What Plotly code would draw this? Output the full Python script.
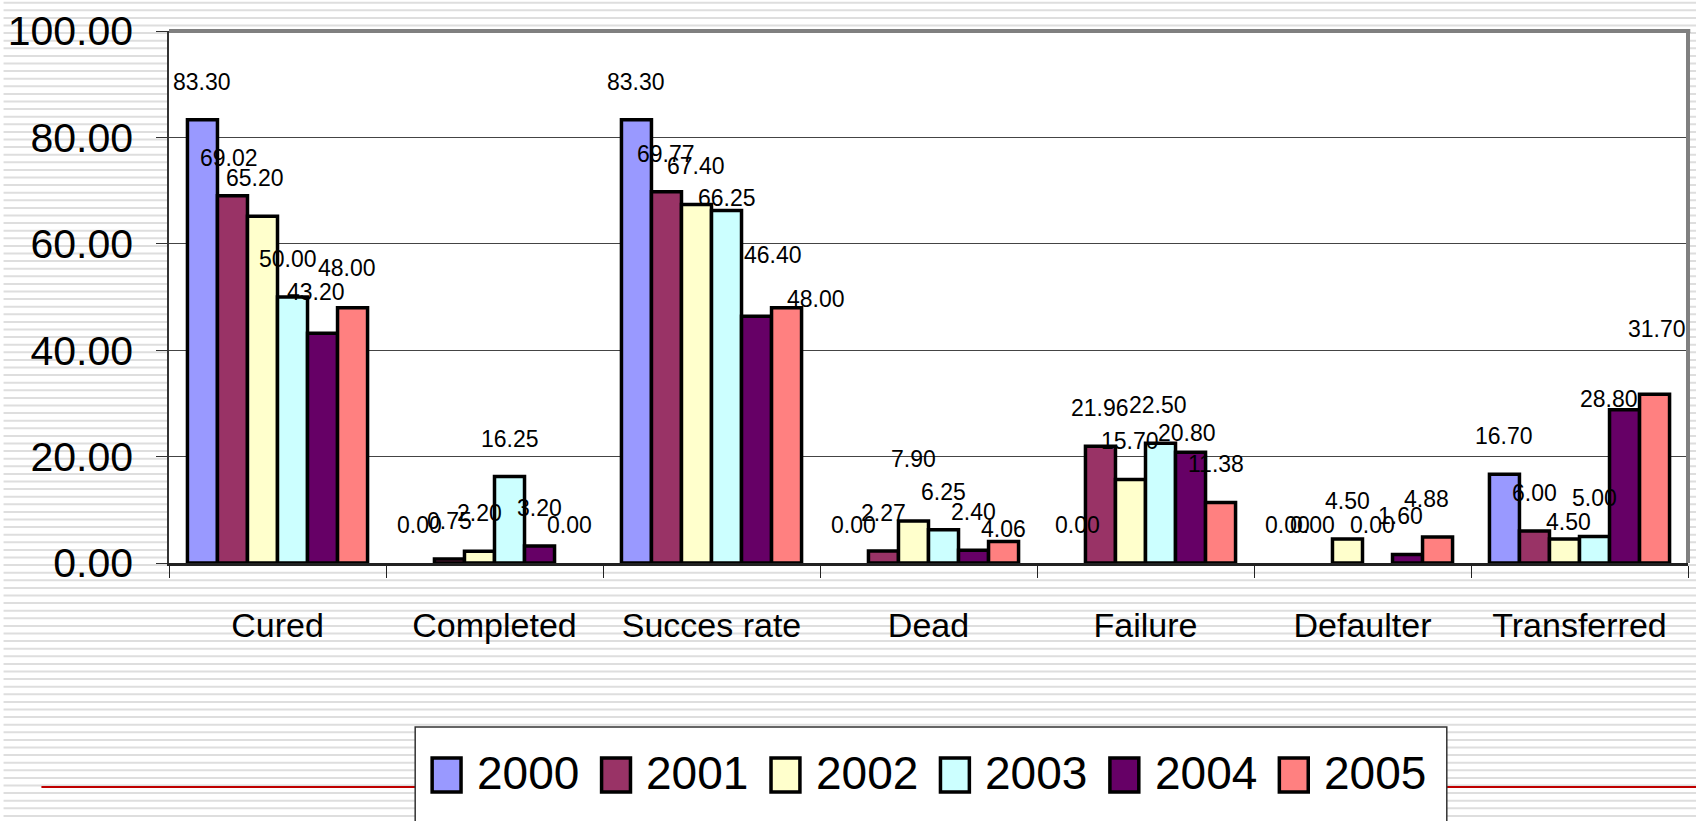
import plotly.graph_objects as go

# ---------------- data ----------------
categories = ["Cured", "Completed", "Succes rate", "Dead", "Failure", "Defaulter", "Transferred"]
years = ["2000", "2001", "2002", "2003", "2004", "2005"]
v2000 = [83.30, 0.00, 83.30, 0.00, 0.00, 0.00, 16.70]
v2001 = [69.02, 0.75, 69.77, 2.27, 21.96, 0.00, 6.00]
v2002 = [65.20, 2.20, 67.40, 7.90, 15.70, 4.50, 4.50]
v2003 = [50.00, 16.25, 66.25, 6.25, 22.50, 0.00, 5.00]
v2004 = [43.20, 3.20, 46.40, 2.40, 20.80, 1.60, 28.80]
v2005 = [48.00, 0.00, 48.00, 4.06, 11.38, 4.88, 31.70]
y_tick_vals = [0, 20, 40, 60, 80, 100]
series = [v2000, v2001, v2002, v2003, v2004, v2005]

# ---------------- styles ----------------
colors = ["#9999FF", "#993366", "#FFFFCC", "#CCFFFF", "#660066", "#FF8080"]
FONT = "Liberation Sans, Arial, sans-serif"
W, H = 1696, 821
ML, MR, MT, MB = 164, 8, 31, 258
PW, PH = W - ML - MR, H - MT - MB
BARGAP = 0.17
OUTLINE = 3.5
group_px = PW / len(categories)
bar_px = group_px * (1 - BARGAP) / len(years)
LABEL_LIFT = 38
# manual label nudges (pixels) as placed in the original slide: (category index, series index) -> (dx, dy)
label_nudge = {
    (0, 1): (-3, 0), (0, 2): (-7, 0), (0, 3): (-5, 0), (0, 4): (-7, 3), (0, 5): (-6, 2),
    (2, 3): (0, -25), (2, 4): (16, 23), (2, 5): (29, -29),
    (3, 2): (0, 24), (3, 5): (0, -26),
    (4, 0): (7, 0), (4, 3): (-3, 0), (4, 4): (-4, -19), (4, 5): (-5, 0),
    (5, 1): (-5, 0), (5, 3): (-5, 0), (5, 4): (-7, 0), (5, 5): (-11, 0),
    (6, 2): (4, -21), (6, 4): (-16, -27), (6, 5): (2, 27),
}


def px_x(x):
    return (x - ML) / PW


def px_y(y):
    return (H - MB - y) / PH


fig = go.Figure()
for yr, vals, col in zip(years, series, colors):
    fig.add_trace(go.Bar(
        name=yr, x=categories, y=vals,
        marker=dict(color=col, line=dict(color="black",
                                         width=[OUTLINE if v > 0 else 0 for v in vals])),
        showlegend=False,
    ))

# data labels
annotations = []
for si, vals in enumerate(series):
    for ci, (cat, v) in enumerate(zip(categories, vals)):
        dx, dy = label_nudge.get((ci, si), (0, 0))
        annotations.append(dict(
            x=cat, y=v, xref="x", yref="y", text=f"{v:.2f}", showarrow=False,
            xanchor="center", yanchor="middle",
            xshift=(si - (len(years) - 1) / 2) * bar_px + dx,
            yshift=LABEL_LIFT + dy,
            font=dict(family=FONT, size=23, color="black"),
        ))

# background stripes (slide template)
stripe_path = ""
y = 2.7
while y < H + 4:
    stripe_path += f"M {px_x(-2):.5f} {px_y(y):.5f} L {px_x(W + 2):.5f} {px_y(y):.5f} "
    y += 7.6
shapes = [
    dict(type="path", xref="paper", yref="paper", path=stripe_path,
         line=dict(color="#DEDEDE", width=2), layer="below"),
    dict(type="line", xref="paper", yref="paper", x0=px_x(36), x1=px_x(W + 2),
         y0=px_y(787), y1=px_y(787), line=dict(color="#C00000", width=2), layer="below"),
    # white plot area
    dict(type="rect", xref="x domain", yref="y domain", x0=0, x1=1, y0=0, y1=1,
         fillcolor="white", line=dict(width=0), layer="below"),
    # plot-area border (top / right)
    dict(type="line", xref="paper", yref="paper", x0=0, x1=1.0015, y0=1, y1=1,
         line=dict(color="#808080", width=4), layer="above"),
    dict(type="line", xref="paper", yref="paper", x0=1, x1=1, y0=0, y1=1,
         line=dict(color="#808080", width=4), layer="above"),
    # legend box
    dict(type="rect", xref="paper", yref="paper", x0=px_x(411), x1=px_x(1446),
         y0=px_y(835), y1=px_y(727), fillcolor="white",
         line=dict(color="#333333", width=1.5), layer="below"),
]
for i, (yr, col) in enumerate(zip(years, colors)):
    x0 = 428 + 170 * i
    shapes.append(dict(type="rect", xref="paper", yref="paper",
                       x0=px_x(x0), x1=px_x(x0 + 29), y0=px_y(792), y1=px_y(758),
                       fillcolor=col, line=dict(color="black", width=3.5), layer="below"))
    annotations.append(dict(x=px_x(x0 + 43), y=px_y(773), xref="paper", yref="paper",
                            text=yr, showarrow=False, xanchor="left", yanchor="middle",
                            font=dict(family=FONT, size=46, color="black")))

fig.update_layout(
    width=W, height=H,
    margin=dict(l=ML, r=MR, t=MT, b=MB, pad=0),
    paper_bgcolor="white", plot_bgcolor="white",
    barmode="group", bargap=BARGAP, bargroupgap=0,
    showlegend=False,
    shapes=shapes, annotations=annotations,
    font=dict(family=FONT, color="black"),
)
fig.update_xaxes(
    type="category", showline=True, linecolor="#222222", linewidth=2.5,
    ticks="outside", tickson="boundaries", ticklen=12, tickcolor="#222222", tickwidth=1,
    showgrid=False, tickfont=dict(family=FONT, size=34, color="black"),
    ticklabelstandoff=30,
)
fig.update_yaxes(
    range=[0, 100], tickvals=y_tick_vals, tickformat=".2f",
    showline=True, linecolor="#333333", linewidth=1.5,
    ticks="outside", ticklen=11, tickcolor="#333333", tickwidth=1,
    showgrid=True, gridcolor="#444444", gridwidth=1, zeroline=False,
    tickfont=dict(family=FONT, size=41, color="black"),
    ticklabelstandoff=15,
)

fig.write_html("out.html", config={"displayModeBar": False},
               post_script="document.body.style.margin='0px';")
